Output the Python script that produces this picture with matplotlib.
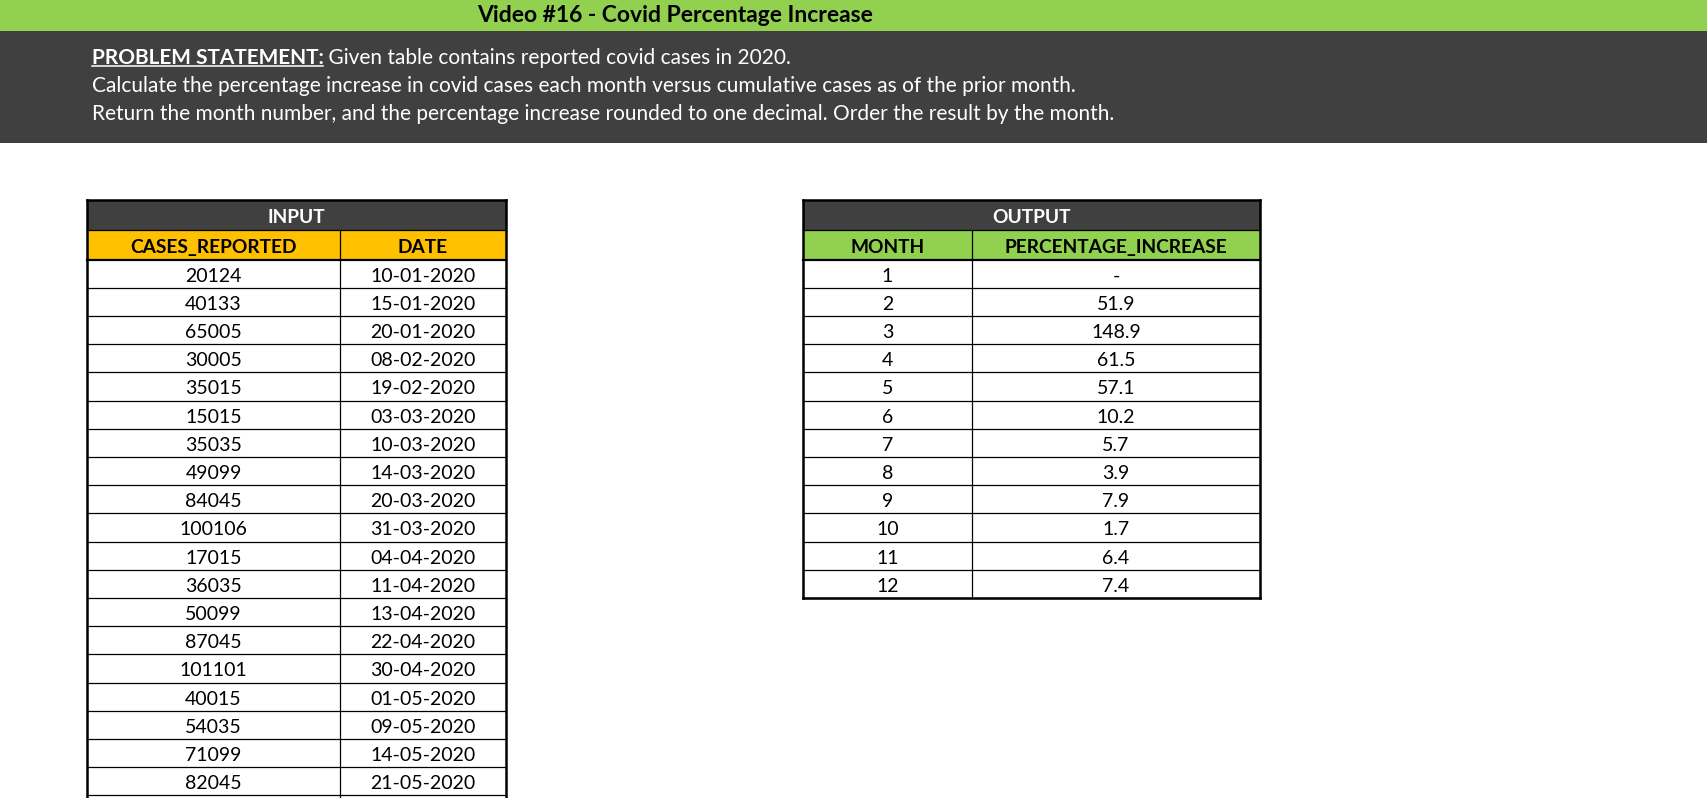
import matplotlib.pyplot as plt
from matplotlib.patches import Rectangle

plt.rcParams['font.family'] = ['Lato', 'DejaVu Sans']

# page text
title = 'Video #16 - Covid Percentage Increase'
statement_head = 'PROBLEM STATEMENT:'
statement_lines = [
    ' Given table contains reported covid cases in 2020.',
    'Calculate the percentage increase in covid cases each month versus cumulative cases as of the prior month.',
    'Return the month number, and the percentage increase rounded to one decimal. Order the result by the month.',
]

# input table
input_title = 'INPUT'
input_columns = ['CASES_REPORTED', 'DATE']
cases_reported = [20124, 40133, 65005, 30005, 35015, 15015, 35035, 49099, 84045, 100106,
                  17015, 36035, 50099, 87045, 101101, 40015, 54035, 71099, 82045]
dates = ['10-01-2020', '15-01-2020', '20-01-2020', '08-02-2020', '19-02-2020', '03-03-2020',
         '10-03-2020', '14-03-2020', '20-03-2020', '31-03-2020', '04-04-2020', '11-04-2020',
         '13-04-2020', '22-04-2020', '30-04-2020', '01-05-2020', '09-05-2020', '14-05-2020',
         '21-05-2020']

# output table
output_title = 'OUTPUT'
output_columns = ['MONTH', 'PERCENTAGE_INCREASE']
months = [1, 2, 3, 4, 5, 6, 7, 8, 9, 10, 11, 12]
pct_increase = [None, 51.9, 148.9, 61.5, 57.1, 10.2, 5.7, 3.9, 7.9, 1.7, 6.4, 7.4]

W, H = 1707, 798
GREEN = '#92D050'
DARK = '#404040'
ORANGE = '#FFC000'
TITLE_H = 30
HEAD_H = 29.5
ROW_H = 28.2
FS = 14
FS_HEAD = 13.8
FS_TEXT = 15


def draw_table(ax, col_x, y0, tbl_title, columns, head_color, rows, extend_to=None):
    x0, x1 = col_x[0], col_x[-1]
    y_head = y0 + TITLE_H
    y_data = y_head + HEAD_H
    y_end = y_data + len(rows) * ROW_H
    ax.add_patch(Rectangle((x0, y0), x1 - x0, TITLE_H, color=DARK, lw=0))
    ax.add_patch(Rectangle((x0, y_head), x1 - x0, HEAD_H, color=head_color, lw=0))
    ax.text((x0 + x1) / 2, y0 + TITLE_H / 2 + 1, tbl_title, color='white', fontsize=FS_HEAD,
            fontweight='bold', ha='center', va='center_baseline')
    for j, col in enumerate(columns):
        ax.text((col_x[j] + col_x[j + 1]) / 2, y_head + HEAD_H / 2 + 1, col, fontsize=FS_HEAD,
                fontweight='bold', ha='center', va='center_baseline')
    for i, row in enumerate(rows):
        yc = y_data + (i + 0.5) * ROW_H + 1
        for j, val in enumerate(row):
            ax.text((col_x[j] + col_x[j + 1]) / 2, yc, val, fontsize=FS,
                    ha='center', va='center_baseline')
    bottom = extend_to if extend_to is not None else y_end
    # grid lines
    ax.plot([x0, x1], [y_head, y_head], color='black', lw=0.9)
    ax.plot([x0, x1], [y_data, y_data], color='black', lw=1.6)
    for k in range(1, len(rows) + 1):
        y = y_data + k * ROW_H
        if y > bottom:
            break
        ax.plot([x0, x1], [y, y], color='black', lw=0.9)
    ax.plot([col_x[1], col_x[1]], [y_head, bottom], color='black', lw=0.9)
    # outer border
    ax.plot([x0, x0], [y0, bottom], color='black', lw=1.8)
    ax.plot([x1, x1], [y0, bottom], color='black', lw=1.8)
    ax.plot([x0, x1], [y0, y0], color='black', lw=1.8)
    if extend_to is None:
        ax.plot([x0, x1], [y_end, y_end], color='black', lw=1.8)


fig = plt.figure(figsize=(W / 100, H / 100), dpi=100)
ax = fig.add_axes([0, 0, 1, 1])
ax.set_xlim(0, W)
ax.set_ylim(H, 0)
ax.axis('off')

# banners
ax.add_patch(Rectangle((0, 0), W, 30.5, color=GREEN, lw=0))
ax.add_patch(Rectangle((0, 30.5), W, 112.5, color=DARK, lw=0))
ax.text(675, 16, title, fontsize=16.5, fontweight='bold', ha='center', va='center')

renderer = fig.canvas.get_renderer()
baselines = [63.5, 92, 120.5]
head = ax.text(91.5, baselines[0], statement_head, fontsize=FS_TEXT, fontweight='bold',
               color='white', ha='left', va='baseline')
bb = head.get_window_extent(renderer).transformed(ax.transData.inverted())
head_x1 = max(bb.x0, bb.x1)
ax.plot([91.5, head_x1], [baselines[0] + 2.5, baselines[0] + 2.5], color='white', lw=1.1)
ax.text(head_x1, baselines[0], statement_lines[0], fontsize=FS_TEXT, color='white',
        ha='left', va='baseline')
for line, yb in zip(statement_lines[1:], baselines[1:]):
    ax.text(91.5, yb, line, fontsize=FS_TEXT, color='white', ha='left', va='baseline')

input_rows = [(str(c), d) for c, d in zip(cases_reported, dates)]
draw_table(ax, [87, 340, 506], 200, input_title, input_columns, ORANGE, input_rows, extend_to=H)

output_rows = [(str(m), '-' if p is None else f'{p:.1f}') for m, p in zip(months, pct_increase)]
draw_table(ax, [803, 972, 1260], 200, output_title, output_columns, GREEN, output_rows)

fig.savefig('out.png', dpi=100)
